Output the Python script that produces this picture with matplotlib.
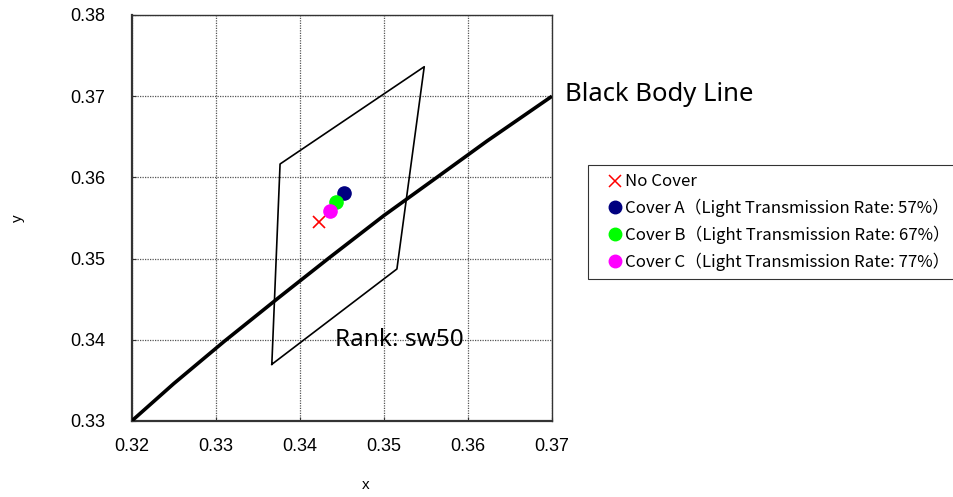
import numpy as np
import matplotlib
matplotlib.use('Agg')
import matplotlib.pyplot as plt
from matplotlib.lines import Line2D

# black body line
bb_x = [0.320, 0.325, 0.331, 0.3375, 0.3435, 0.350, 0.3563, 0.3623, 0.370]
bb_y = [0.330, 0.3346, 0.3398, 0.3452, 0.3501, 0.3553, 0.3600, 0.3645, 0.370]

# rank sw50 quadrangle corners
rank_x = [0.33667, 0.33765, 0.35480, 0.35155, 0.33667]
rank_y = [0.33698, 0.36165, 0.37363, 0.34872, 0.33698]

# measured points
names = ['No Cover',
         'Cover A\uff08Light Transmission Rate: 57%\uff09',
         'Cover B\uff08Light Transmission Rate: 67%\uff09',
         'Cover C\uff08Light Transmission Rate: 77%\uff09']
pt_x = [0.34230, 0.34527, 0.34428, 0.34361]
pt_y = [0.35455, 0.35804, 0.35697, 0.35590]
colors = ['#FF0000', '#000080', '#00FF00', '#FF00FF']
markers = ['x', 'o', 'o', 'o']

x_ticks = [0.32, 0.33, 0.34, 0.35, 0.36, 0.37]
y_ticks = [0.33, 0.34, 0.35, 0.36, 0.37, 0.38]

fig = plt.figure(figsize=(9.54, 4.97), dpi=100)
ax = fig.add_axes([131.7 / 954, 1 - 421 / 497, 420.3 / 954, 406 / 497])

ax.set_xlim(0.32, 0.37)
ax.set_ylim(0.33, 0.38)
ax.set_xticks(x_ticks)
ax.set_yticks(y_ticks)
ax.set_xticklabels([f'{v:.2f}' for v in x_ticks], family='Liberation Sans', fontsize=13)
ax.set_yticklabels([f'{v:.2f}' for v in y_ticks], family='Liberation Sans', fontsize=13)
ax.tick_params(axis='x', direction='in', length=3, pad=12.5, colors='#333333', labelcolor='black')
ax.tick_params(axis='y', direction='in', length=3, pad=19, colors='#333333', labelcolor='black')
ax.grid(True, linestyle=(0, (1, 1)), color='#555555', linewidth=0.9)
ax.set_axisbelow(True)
for s in ['left', 'bottom']:
    ax.spines[s].set_linewidth(1.6)
    ax.spines[s].set_color('#333333')
for s in ['top', 'right']:
    ax.spines[s].set_linestyle((0, (1, 1)))
    ax.spines[s].set_linewidth(1.0)
    ax.spines[s].set_color('#333333')

ax.plot(bb_x, bb_y, color='black', lw=2.6, solid_joinstyle='round', solid_capstyle='butt', zorder=3)
ax.plot(rank_x, rank_y, color='black', lw=1.2, zorder=3)

for n, x, y, c, m in zip(names, pt_x, pt_y, colors, markers):
    if m == 'x':
        ax.plot(x, y, linestyle='none', marker='x', ms=9, mew=1.2, color=c, zorder=4)
    else:
        ax.plot(x, y, linestyle='none', marker='o', ms=9.5, color=c, zorder=4)

ax.text(0.3442, 0.3400, 'Rank: sw50', family='Noto Sans', fontsize=17.5,
        ha='left', va='center', zorder=5)
ax.text(0.3715, 0.37015, 'Black Body Line', family='Noto Sans', fontsize=18.5,
        ha='left', va='center', clip_on=False)

fig.text(366 / 954, 1 - 485 / 497, 'x', family='Liberation Sans', fontsize=11, ha='center', va='center')
fig.text(18 / 954, 1 - 218 / 497, 'y', family='Liberation Sans', fontsize=11, ha='center', va='center', rotation=90)

handles = []
for n, c, m in zip(names, colors, markers):
    if m == 'x':
        handles.append(Line2D([], [], linestyle='none', marker='x', ms=9, mew=1.1, color=c))
    else:
        handles.append(Line2D([], [], linestyle='none', marker='o', ms=9, color=c))
leg = fig.legend(handles, names, loc='upper left', bbox_to_anchor=(588 / 954, 1 - 165 / 497),
                 frameon=True, fancybox=False, edgecolor='black', handlelength=2.2,
                 handletextpad=-0.5, borderpad=0.5, labelspacing=0.5, borderaxespad=0,
                 prop={'family': ['Noto Sans CJK JP', 'DejaVu Sans'], 'size': 12.1})
leg.get_frame().set_linewidth(0.8)

fig.savefig('out.png', dpi=100)
